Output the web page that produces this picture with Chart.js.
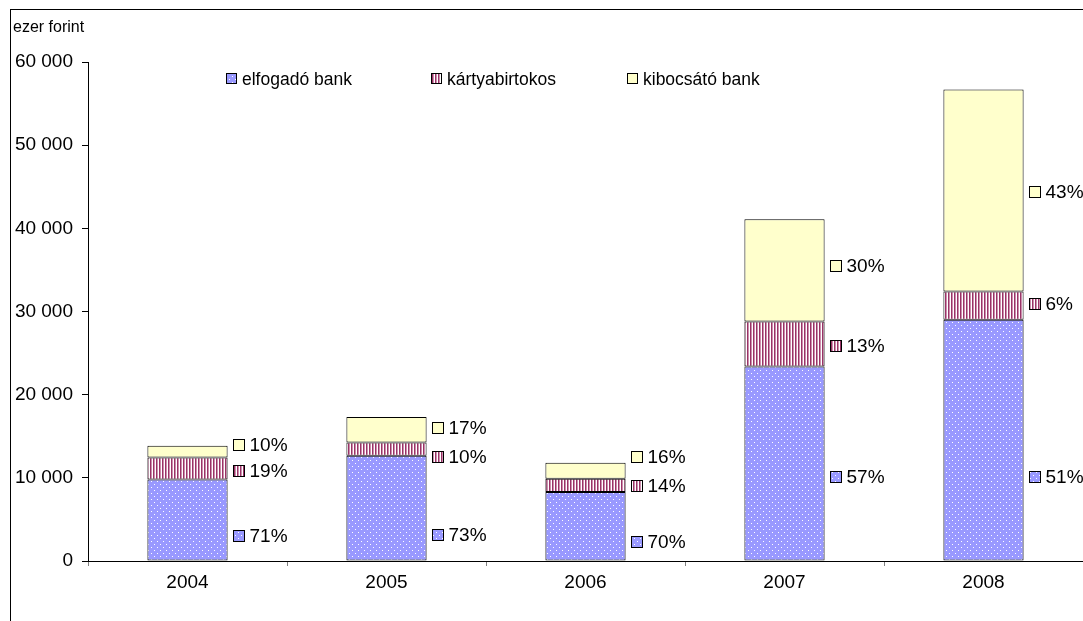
<!DOCTYPE html>
<html>
<head>
<meta charset="utf-8">
<script src="https://cdn.jsdelivr.net/npm/chart.js@4/dist/chart.umd.min.js"></script>
<style>
  html, body { margin:0; padding:0; background:#fff; }
  #wrap { position:relative; width:1083px; height:621px; overflow:hidden; }
  #frame { position:absolute; left:10px; top:9px; width:1200px; height:700px; border-left:1px solid #000; border-top:1px solid #000; pointer-events:none; }
  #unit { position:absolute; left:13px; top:18px; font:16px "Liberation Sans", Arial, sans-serif; color:#000; }
  canvas { position:absolute; left:0; top:0; }
</style>
</head>
<body>
<div id="wrap">
  <canvas id="c" width="1083" height="621"></canvas>
  <div id="frame"></div>
  <div id="unit">ezer forint</div>
</div>
<script>
// ---- data ----
const years = ['2004', '2005', '2006', '2007', '2008'];
const seriesNames = ['elfogadó bank', 'kártyabirtokos', 'kibocsátó bank'];
const acquirer   = [9800, 12650, 8300, 23400, 29000];
const cardholder = [2650, 1600, 1600, 5400, 3400];
const issuer     = [1400, 3050, 1900, 12300, 24300];
const acquirerPct   = ['71%', '73%', '70%', '57%', '51%'];
const cardholderPct = ['19%', '10%', '14%', '13%', '6%'];
const issuerPct     = ['10%', '17%', '16%', '30%', '43%'];
// value (ezer forint) at which each percentage label sits
const acquirerLabelAt   = [2980, 3070, 2260, 10050, 10050];
const cardholderLabelAt = [10770, 12500, 9000, 25800, 30900];
const issuerLabelAt     = [13900, 16000, 12500, 35450, 44400];
const yMin = 0, yMax = 60000, yStep = 10000;

// ---- patterns ----
function dotPattern() {
  const p = document.createElement('canvas'); p.width = 6; p.height = 6;
  const g = p.getContext('2d');
  g.fillStyle = '#9999ff'; g.fillRect(0, 0, 6, 6);
  g.fillStyle = '#ffffff';
  g.fillRect(1, 1, 1, 1); g.fillRect(4, 4, 1, 1);
  return g.createPattern(p, 'repeat');
}
function stripePattern() {
  const p = document.createElement('canvas'); p.width = 3; p.height = 3;
  const g = p.getContext('2d');
  g.fillStyle = '#ffffff'; g.fillRect(0, 0, 3, 3);
  g.fillStyle = '#993366'; g.fillRect(0, 0, 1, 3);
  g.fillStyle = '#cc8fae'; g.fillRect(1, 0, 1, 3);
  return g.createPattern(p, 'repeat');
}
const fills = [dotPattern(), stripePattern(), '#ffffcc'];
const values = [acquirer, cardholder, issuer];
const pcts = [acquirerPct, cardholderPct, issuerPct];
const labelAt = [acquirerLabelAt, cardholderLabelAt, issuerLabelAt];

const FONT = '"Liberation Sans", Arial, sans-serif';

const labelPlugin = {
  id: 'pctLabels',
  afterDatasetsDraw(chart) {
    const ctx = chart.ctx;
    const ys = chart.scales.y;
    ctx.save();
    ctx.font = '19px ' + FONT;
    ctx.textBaseline = 'middle';
    ctx.textAlign = 'left';
    for (let d = 0; d < 3; d++) {
      const meta = chart.getDatasetMeta(d);
      meta.data.forEach((bar, i) => {
        const x = Math.round(bar.x + bar.width / 2 + 5) + 0.5;
        const y = Math.round(ys.getPixelForValue(labelAt[d][i]));
        ctx.fillStyle = fills[d];
        ctx.fillRect(x, y - 5.5, 11, 11);
        ctx.strokeStyle = '#000'; ctx.lineWidth = 1;
        ctx.strokeRect(x, y - 5.5, 11, 11);
        ctx.fillStyle = '#000';
        ctx.fillText(pcts[d][i], x + 16, y + 1);
      });
    }
    ctx.restore();
  }
};

const legendPlugin = {
  id: 'topLegend',
  afterDraw(chart) {
    const ctx = chart.ctx;
    const xs = [226, 431, 627];
    const y = 79;
    ctx.save();
    ctx.font = '17.5px ' + FONT;
    ctx.textBaseline = 'middle';
    ctx.textAlign = 'left';
    seriesNames.forEach((n, d) => {
      const x = xs[d] + 0.5;
      ctx.fillStyle = fills[d];
      ctx.fillRect(x, y - 5.5, 10, 10);
      ctx.strokeStyle = '#000'; ctx.lineWidth = 1;
      ctx.strokeRect(x, y - 5.5, 10, 10);
      ctx.fillStyle = '#000';
      ctx.fillText(n, xs[d] + 16, y + 1);
    });
    ctx.restore();
  }
};

new Chart(document.getElementById('c'), {
  type: 'bar',
  data: {
    labels: years,
    datasets: values.map((v, d) => ({
      label: seriesNames[d],
      data: v,
      backgroundColor: fills[d],
      borderColor: '#000',
      borderWidth: 1,
      borderSkipped: false,
      categoryPercentage: 1,
      barPercentage: 0.403
    }))
  },
  options: {
    responsive: false,
    animation: false,
    devicePixelRatio: 1,
    layout: { padding: { left: 0, right: 0, top: 62, bottom: 0 } },
    plugins: { legend: { display: false }, tooltip: { enabled: false } },
    scales: {
      x: {
        stacked: true,
        afterFit(s) { s.height = 60; },
        border: { color: '#000', width: 1 },
        grid: { offset: true, drawOnChartArea: false, drawTicks: true, tickLength: 5, color: '#808080' },
        ticks: { color: '#000', font: { family: FONT, size: 19 }, padding: 5 }
      },
      y: {
        stacked: true,
        min: yMin, max: yMax,
        afterFit(s) { s.width = 88; },
        border: { color: '#000', width: 1 },
        grid: { drawOnChartArea: false, drawTicks: true, tickLength: 6, color: '#000' },
        ticks: {
          stepSize: yStep,
          color: '#000',
          font: { family: FONT, size: 19 },
          padding: 9,
          callback: v => v.toLocaleString('en-US').replace(/,/g, ' ')
        }
      }
    }
  },
  plugins: [labelPlugin, legendPlugin]
});
</script>
</body>
</html>
